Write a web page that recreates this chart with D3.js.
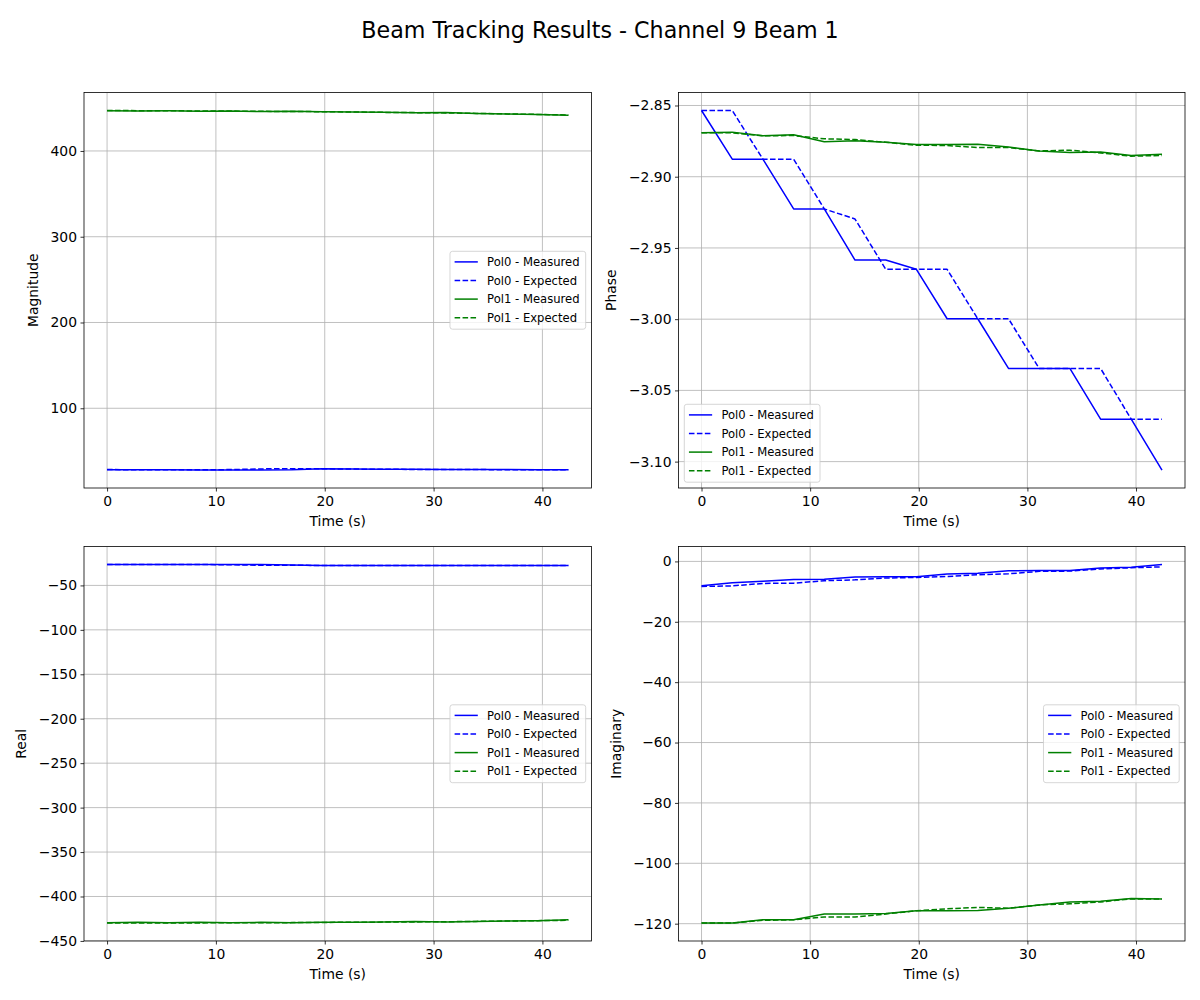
<!DOCTYPE html>
<html>
<head>
<meta charset="utf-8">
<script src="https://cdn.jsdelivr.net/npm/d3@7"></script>
<style>
  html, body { margin: 0; padding: 0; background: #fff; }
  svg { display: block; font-family: "DejaVu Sans", sans-serif; }
</style>
</head>
<body>
<svg id="chart" width="1200" height="1000"></svg>
<script>
// ---------------- data ----------------
const time = [0, 2.83, 5.65, 8.48, 11.30, 14.13, 16.96, 19.78, 22.61, 25.43, 28.26, 31.09, 33.91, 36.74, 39.56, 42.39];

const magPol0Measured = [28.4, 28.3, 28.2, 28.1, 28.0, 28.0, 28.3, 29.4, 29.2, 29.0, 28.8, 28.7, 28.6, 28.5, 28.4, 28.3];
const magPol0Expected = [28.5, 28.4, 28.3, 28.3, 28.5, 29.3, 29.6, 29.5, 29.1, 28.9, 28.7, 28.6, 28.5, 28.4, 28.3, 28.2];
const magPol1Measured = [447.0, 446.6, 446.8, 446.4, 446.6, 446.0, 446.4, 445.6, 445.4, 445.2, 444.6, 444.8, 443.8, 443.0, 442.4, 441.6];
const magPol1Expected = [447.2, 447.0, 446.9, 446.6, 446.5, 446.2, 446.0, 445.8, 445.4, 445.0, 444.7, 444.4, 443.8, 443.2, 442.6, 442.0];

const phasePol0Measured = [-2.8535, -2.8877, -2.8877, -2.9226, -2.9226, -2.9585, -2.9585, -2.9650, -2.9997, -2.9997, -3.0346, -3.0346, -3.0346, -3.0702, -3.0702, -3.1059];
const phasePol0Expected = [-2.8535, -2.8535, -2.8877, -2.8877, -2.9226, -2.9297, -2.9650, -2.9650, -2.9650, -2.9997, -2.9997, -3.0346, -3.0346, -3.0346, -3.0702, -3.0702];
const phasePol1Measured = [-2.8692, -2.8687, -2.8713, -2.8706, -2.8755, -2.8748, -2.8758, -2.8774, -2.8774, -2.8772, -2.8791, -2.8819, -2.8830, -2.8826, -2.8851, -2.8842];
const phasePol1Expected = [-2.8692, -2.8692, -2.8713, -2.8711, -2.8734, -2.8739, -2.8758, -2.8779, -2.8781, -2.8795, -2.8795, -2.8819, -2.8814, -2.8833, -2.8856, -2.8851];

const realPol0Measured = [-26.4, -26.4, -26.4, -26.5, -26.5, -26.6, -26.9, -27.5, -27.5, -27.5, -27.5, -27.5, -27.5, -27.5, -27.5, -27.5];
const realPol0Expected = [-26.4, -26.4, -26.5, -26.5, -26.8, -27.3, -27.4, -27.5, -27.5, -27.5, -27.5, -27.5, -27.5, -27.5, -27.5, -27.5];
const realPol1Measured = [-429.5, -429.0, -429.6, -429.1, -429.6, -429.1, -429.6, -429.1, -429.0, -428.8, -428.2, -428.8, -428.0, -427.6, -427.2, -426.2];
const realPol1Expected = [-429.9, -429.9, -429.7, -429.7, -429.6, -429.5, -429.4, -429.2, -429.0, -428.8, -428.6, -428.4, -428.0, -427.6, -427.2, -426.8];

const imagPol0Measured = [-8.1, -7.1, -6.6, -6.0, -5.9, -5.2, -5.1, -5.1, -4.2, -3.9, -3.1, -3.0, -3.0, -2.2, -1.9, -1.0];
const imagPol0Expected = [-8.3, -8.1, -7.3, -7.2, -6.4, -6.1, -5.5, -5.3, -5.0, -4.4, -4.1, -3.3, -3.2, -2.5, -2.1, -1.8];
const imagPol1Measured = [-119.8, -119.8, -118.7, -118.7, -116.8, -116.8, -116.6, -115.7, -115.7, -115.6, -114.9, -113.8, -112.8, -112.6, -111.7, -111.8];
const imagPol1Expected = [-119.8, -119.8, -118.9, -118.7, -117.8, -117.8, -116.8, -115.7, -115.1, -114.6, -114.9, -113.8, -113.4, -112.8, -111.8, -111.8];

const timeTicks = [0, 10, 20, 30, 40];
const magTicks = [100, 200, 300, 400];
const phaseTicks = [-2.85, -2.90, -2.95, -3.00, -3.05, -3.10];
const realTicks = [-450, -400, -350, -300, -250, -200, -150, -100, -50];
const imagTicks = [-120, -100, -80, -60, -40, -20, 0];

const seriesNames = ["Pol0 - Measured", "Pol0 - Expected", "Pol1 - Measured", "Pol1 - Expected"];
const title = "Beam Tracking Results - Channel 9 Beam 1";
const xLabel = "Time (s)";

// ---------------- layout / style ----------------
const svg = d3.select("#chart");
const BLUE = "#0000ff", GREEN = "#008000";
const seriesStyle = [
  {color: BLUE, dash: null},
  {color: BLUE, dash: "5.55,2.4"},
  {color: GREEN, dash: null},
  {color: GREEN, dash: "5.55,2.4"}
];
const colX = [[84, 591.5], [678.5, 1185]];
const rowY = [[92.5, 488], [546.5, 941]];
const TICK_FS = 13.9, LEG_FS = 11.6;
const fmtMinus = s => s.replace("-", "\u2212");

const panels = [
  {col: 0, row: 0, ylabel: "Magnitude", ticks: magTicks, fmt: d3.format("d"),
   series: [magPol0Measured, magPol0Expected, magPol1Measured, magPol1Expected], legend: "center right"},
  {col: 1, row: 0, ylabel: "Phase", ticks: phaseTicks, fmt: d3.format(".2f"),
   series: [phasePol0Measured, phasePol0Expected, phasePol1Measured, phasePol1Expected], legend: "lower left"},
  {col: 0, row: 1, ylabel: "Real", ticks: realTicks, fmt: d3.format("d"),
   series: [realPol0Measured, realPol0Expected, realPol1Measured, realPol1Expected], legend: "center right"},
  {col: 1, row: 1, ylabel: "Imaginary", ticks: imagTicks, fmt: d3.format("d"),
   series: [imagPol0Measured, imagPol0Expected, imagPol1Measured, imagPol1Expected], legend: "center right"}
];

function padded(ext) {
  const m = (ext[1] - ext[0]) * 0.05;
  return [ext[0] - m, ext[1] + m];
}

// title
svg.append("text")
  .attr("x", 600).attr("y", 38)
  .attr("text-anchor", "middle")
  .attr("font-size", 22.2)
  .attr("fill", "#000")
  .text(title);

panels.forEach((p, i) => {
  const [x0, x1] = colX[p.col];
  const [y0, y1] = rowY[p.row];
  const x = d3.scaleLinear().domain(padded(d3.extent(time))).range([x0, x1]);
  const allY = p.series.flat();
  const y = d3.scaleLinear().domain(padded(d3.extent(allY))).range([y1, y0]);
  const yDom = y.domain();
  const eps = (yDom[1] - yDom[0]) * 0.002;
  const yt = p.ticks.filter(t => t >= yDom[0] - eps && t <= yDom[1] + eps);

  const g = svg.append("g");
  const clipId = "clip" + i;
  svg.append("clipPath").attr("id", clipId)
    .append("rect").attr("x", x0).attr("y", y0).attr("width", x1 - x0).attr("height", y1 - y0);

  // grid
  const grid = g.append("g").attr("clip-path", `url(#${clipId})`);
  grid.selectAll("line.vx").data(timeTicks).join("line")
    .attr("class", "vx")
    .attr("x1", d => x(d)).attr("x2", d => x(d))
    .attr("y1", y0).attr("y2", y1)
    .attr("stroke", "#b0b0b0").attr("stroke-width", 0.8);
  grid.selectAll("line.hy").data(yt).join("line")
    .attr("class", "hy")
    .attr("x1", x0).attr("x2", x1)
    .attr("y1", d => y(d)).attr("y2", d => y(d))
    .attr("stroke", "#b0b0b0").attr("stroke-width", 0.8);

  // lines
  const line = d3.line().x((d, k) => x(time[k])).y(d => y(d));
  const lines = g.append("g").attr("clip-path", `url(#${clipId})`);
  p.series.forEach((s, k) => {
    lines.append("path")
      .attr("d", line(s))
      .attr("fill", "none")
      .attr("stroke", seriesStyle[k].color)
      .attr("stroke-width", 1.5)
      .attr("stroke-dasharray", seriesStyle[k].dash)
      .attr("stroke-linejoin", "round");
  });

  // axes
  const xAxis = d3.axisBottom(x).tickValues(timeTicks).tickSize(3.5).tickPadding(3.5).tickFormat(d3.format("d"));
  const xg = g.append("g").attr("transform", `translate(0,${y1})`).call(xAxis);
  const yAxis = d3.axisLeft(y).tickValues(yt).tickSize(3.5).tickPadding(3.5).tickFormat(d => fmtMinus(p.fmt(d)));
  const ygp = g.append("g").attr("transform", `translate(${x0},0)`).call(yAxis);
  [xg, ygp].forEach(a => {
    a.select(".domain").remove();
    a.selectAll(".tick line").attr("stroke", "#000").attr("stroke-width", 0.8);
    a.selectAll(".tick text").attr("font-size", TICK_FS).attr("fill", "#000").attr("font-family", "DejaVu Sans");
  });
  xg.selectAll(".tick text").attr("dy", null).attr("y", 17.6);

  // frame
  g.append("rect").attr("x", x0).attr("y", y0).attr("width", x1 - x0).attr("height", y1 - y0)
    .attr("fill", "none").attr("stroke", "#000").attr("stroke-width", 0.8);

  // labels
  g.append("text")
    .attr("x", (x0 + x1) / 2).attr("y", y1 + 38)
    .attr("text-anchor", "middle").attr("font-size", TICK_FS).attr("fill", "#000")
    .text(xLabel);
  const tb = ygp.node().getBBox();
  const lx = x0 + tb.x - 12.5;
  g.append("text")
    .attr("transform", `translate(${lx},${(y0 + y1) / 2}) rotate(-90)`)
    .attr("text-anchor", "middle").attr("font-size", TICK_FS).attr("fill", "#000")
    .text(p.ylabel);

  // legend
  const lg = g.append("g");
  const pad = 0.4 * LEG_FS, hl = 2 * LEG_FS, htp = 0.8 * LEG_FS, rowH = 18.6;
  const texts = seriesNames.map((n, k) => lg.append("text")
    .attr("font-size", LEG_FS).attr("fill", "#000").text(n));
  const tw = d3.max(texts, t => t.node().getComputedTextLength());
  const bw = pad + hl + htp + tw + pad + 1.5;
  const bh = 4 * rowH + 3.5;
  const bap = 0.5 * LEG_FS;
  let bx, by;
  if (p.legend === "center right") {
    bx = x1 - bap - bw; by = (y0 + y1) / 2 - bh / 2;
  } else {
    bx = x0 + bap; by = y1 - bap - bh;
  }
  lg.insert("rect", "text")
    .attr("x", bx).attr("y", by).attr("width", bw).attr("height", bh)
    .attr("rx", 2.5).attr("ry", 2.5)
    .attr("fill", "#fff").attr("fill-opacity", 0.8)
    .attr("stroke", "#cccccc").attr("stroke-width", 0.8);
  seriesNames.forEach((n, k) => {
    const cy = by + 5 + 5.6 + k * rowH;
    lg.append("line")
      .attr("x1", bx + pad).attr("x2", bx + pad + hl)
      .attr("y1", cy).attr("y2", cy)
      .attr("stroke", seriesStyle[k].color).attr("stroke-width", 1.5)
      .attr("stroke-dasharray", seriesStyle[k].dash);
    texts[k].attr("x", bx + pad + hl + htp).attr("y", cy + 4.2);
  });
});
</script>
</body>
</html>
